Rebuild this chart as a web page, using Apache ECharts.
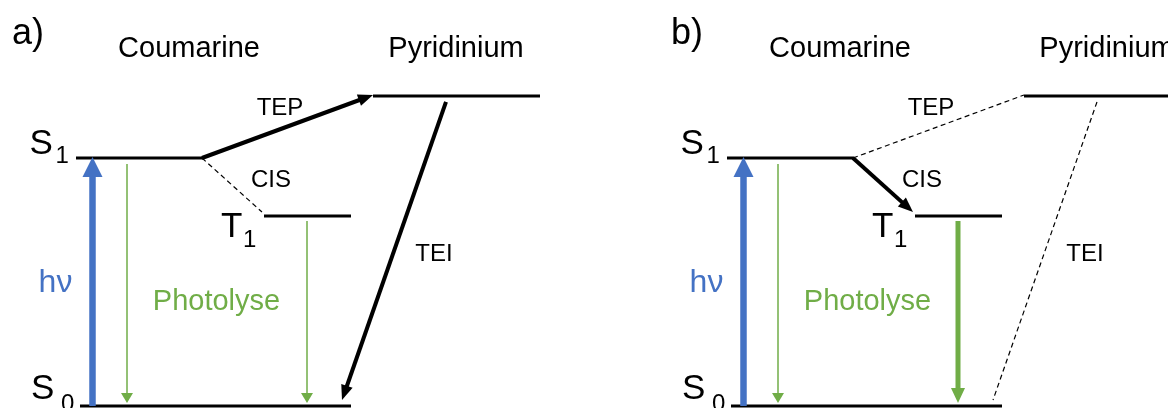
<!DOCTYPE html>
<html>
<head>
<meta charset="utf-8">
<script src="https://cdn.jsdelivr.net/npm/echarts@6/dist/echarts.min.js"></script>
<style>
  html, body { margin: 0; padding: 0; background: #ffffff; }
  #chart { width: 1168px; height: 408px; }
</style>
</head>
<body>
<div id="chart"></div>
<script>
// ---------- DATA (diagram units: x along a panel, E = relative energy, S0 = 0, S1 = 1) ----------
const panelNames = ['a)', 'b)'];
const panelLabelX = [12, 20];
const panelLabelE = [1.499, 1.499];

const titleTexts = ['Coumarine', 'Pyridinium'];
const titleX = [189, 456];
const titleE = [1.44, 1.44];

const levelNames = ['S0', 'T1', 'S1', 'Pyridinium'];
const levelEnergies = [0, 0.766, 1, 1.25];
const levelXStart = [80, 264, 76, 373];
const levelXEnd = [351, 351, 203, 540];

const stateLetters = ['S', 'T', 'S'];
const stateSubs = ['0', '1', '1'];
const stateLetterX = [31, 221, 29.5];
const stateLetterE = [0.0685, 0.722, 1.056];
const stateSubX = [61, 243, 55.5];
const stateSubE = [0.0056, 0.667, 1.006];

const transNames = ['hν', 'Photolyse S1', 'Photolyse T1', 'TEP', 'CIS', 'TEI'];
const transX1 = [92.5, 127, 307, 202, 202, 446];
const transE1 = [0, 0.976, 0.746, 1, 1, 1.226];
const transX2 = [92.5, 127, 307, 373, 262, 342];
const transE2 = [1.004, 0.012, 0.012, 1.254, 0.782, 0.024];

const procTexts = ['hν', 'Photolyse', 'TEP', 'CIS', 'TEI'];
const procX = [55.5, 216.5, 280, 271, 434];
const procE = [0.496, 0.419, 1.202, 0.909, 0.613];

// ---------- STYLES ----------
const BLUE = '#4472C4', GREEN = '#70AD47', BLACK = '#000000';
const FONT = "'Liberation Sans', Arial, Helvetica, sans-serif";
const sBlue = { color: BLUE, width: 6.5, head: [20, 20] };
const sGreenThin = { color: GREEN, width: 1.5, head: [10, 12] };
const sGreenThick = { color: GREEN, width: 5, head: [15, 14] };
const sBlackThick = { color: BLACK, width: 4, head: [15, 12] };
const sDashed = { color: BLACK, width: 1.2, dash: [5, 3.5] };
const panelTransStyles = [
  [sBlue, sGreenThin, sGreenThin, sBlackThick, sDashed, sBlackThick],
  [sBlue, sGreenThin, sGreenThick, sDashed, sBlackThick, sDashed]
];
const procColors = [BLUE, GREEN, BLACK, BLACK, BLACK];
const procSizes = [32, 29, 24, 24, 24];
const panelLeft = [0, 651];
const PANEL_W = 517;

// ---------- BUILD ----------
function arrowItem(style) {
  return function (params, api) {
    const p1 = api.coord([api.value(0), api.value(1)]);
    const p2 = api.coord([api.value(2), api.value(3)]);
    const dx = p2[0] - p1[0], dy = p2[1] - p1[1];
    const len = Math.sqrt(dx * dx + dy * dy);
    const ux = dx / len, uy = dy / len;
    const st = style[params.dataIndex];
    const children = [];
    if (st.head) {
      const hl = st.head[0], hw = st.head[1];
      const bx = p2[0] - ux * hl, by = p2[1] - uy * hl;
      children.push({
        type: 'line',
        shape: { x1: p1[0], y1: p1[1], x2: bx + ux * 2, y2: by + uy * 2 },
        style: { stroke: st.color, lineWidth: st.width, lineCap: 'butt' }
      });
      children.push({
        type: 'polygon',
        shape: { points: [[p2[0], p2[1]], [bx - uy * hw / 2, by + ux * hw / 2], [bx + uy * hw / 2, by - ux * hw / 2]] },
        style: { fill: st.color }
      });
    } else {
      children.push({
        type: 'line',
        shape: { x1: p1[0], y1: p1[1], x2: p2[0], y2: p2[1] },
        style: { stroke: st.color, lineWidth: st.width, lineDash: st.dash, lineCap: 'butt' }
      });
    }
    return { type: 'group', children: children };
  };
}

function textSeries(gi, xs, es, texts, opts) {
  return {
    type: 'custom', xAxisIndex: gi, yAxisIndex: gi, silent: true,
    data: xs.map((x, i) => [x, es[i]]),
    renderItem: function (params, api) {
      const p = api.coord([api.value(0), api.value(1)]);
      const i = params.dataIndex;
      return {
        type: 'text', x: p[0], y: p[1],
        style: {
          text: texts[i],
          fontFamily: FONT,
          fontSize: typeof opts.size === 'function' ? opts.size(i) : opts.size,
          fill: typeof opts.color === 'function' ? opts.color(i) : opts.color,
          align: opts.align, verticalAlign: 'middle'
        }
      };
    }
  };
}

const grids = [], xAxes = [], yAxes = [], series = [];
for (let g = 0; g < 2; g++) {
  grids.push({ left: panelLeft[g], top: 34, width: PANEL_W, height: 372 });
  xAxes.push({ gridIndex: g, type: 'value', min: 0, max: PANEL_W, show: false });
  yAxes.push({ gridIndex: g, type: 'value', min: 0, max: 1.5, show: false });

  // energy levels
  series.push({
    type: 'custom', xAxisIndex: g, yAxisIndex: g, silent: true,
    data: levelEnergies.map((e, i) => [levelXStart[i], e, levelXEnd[i], e]),
    renderItem: function (params, api) {
      const p1 = api.coord([api.value(0), api.value(1)]);
      const p2 = api.coord([api.value(2), api.value(3)]);
      return { type: 'line', shape: { x1: p1[0], y1: p1[1], x2: p2[0], y2: p2[1] },
               style: { stroke: BLACK, lineWidth: 3, lineCap: 'butt' } };
    }
  });
  // transitions
  series.push({
    type: 'custom', xAxisIndex: g, yAxisIndex: g, silent: true,
    data: transX1.map((x, i) => [x, transE1[i], transX2[i], transE2[i]]),
    renderItem: arrowItem(panelTransStyles[g])
  });
  // texts
  series.push(textSeries(g, [panelLabelX[g]], [panelLabelE[g]], [panelNames[g]], { size: 36, color: BLACK, align: 'left' }));
  series.push(textSeries(g, titleX, titleE, titleTexts, { size: 29, color: BLACK, align: 'center' }));
  series.push(textSeries(g, stateLetterX, stateLetterE, stateLetters, { size: 35, color: BLACK, align: 'left' }));
  series.push(textSeries(g, stateSubX, stateSubE, stateSubs, { size: 24, color: BLACK, align: 'left' }));
  series.push(textSeries(g, procX, procE, procTexts, { size: i => procSizes[i], color: i => procColors[i], align: 'center' }));
}

const chart = echarts.init(document.getElementById('chart'), null, { renderer: 'canvas' });
chart.setOption({
  backgroundColor: '#ffffff',
  animation: false,
  grid: grids, xAxis: xAxes, yAxis: yAxes,
  series: series
});
</script>
</body>
</html>
